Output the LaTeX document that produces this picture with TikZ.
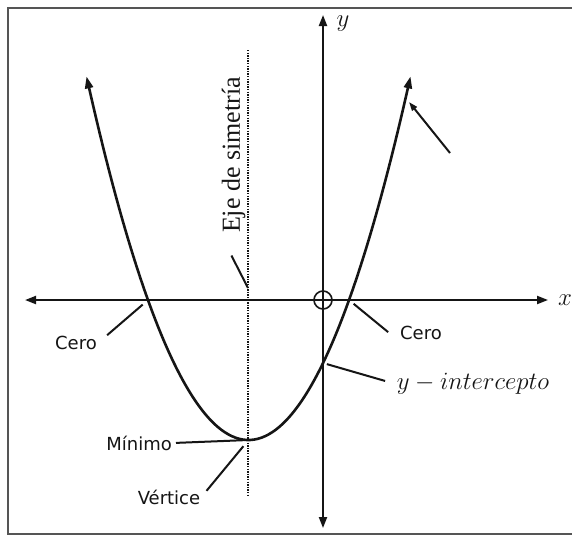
\documentclass[tikz,border=0pt]{standalone}
\usepackage{fontspec}
\setmainfont{Liberation Serif}
\setsansfont{DejaVu Sans}
\usepackage{amsmath}
\usetikzlibrary{arrows.meta}
\definecolor{framegray}{HTML}{555555}
\definecolor{inkblack}{HTML}{151515}
\tikzset{
  axisarrow/.style={{Triangle[length=11pt,width=8pt]}-{Triangle[length=11pt,width=8pt]},line width=2pt,draw=inkblack},
  curvearrow/.style={{Triangle[length=12pt,width=8pt]}-{Triangle[length=12pt,width=8pt]},line width=2.6pt,draw=inkblack},
  pointer/.style={line width=2pt,draw=inkblack},
  pointerarrow/.style={-{Triangle[length=9pt,width=6pt]},line width=2pt,draw=inkblack},
  symline/.style={line width=2.4pt,draw=inkblack,dash pattern=on 1.3pt off 1.3pt},
  sanslabel/.style={font=\sffamily\fontsize{18}{18}\selectfont,inner sep=1pt,text=inkblack},
  mathlabel/.style={font=\fontsize{24}{24}\selectfont,inner sep=1pt,text=inkblack},
  symlabel/.style={font=\fontsize{26}{26}\selectfont,inner sep=1pt,rotate=90,text=inkblack}
}
\begin{document}
\begin{tikzpicture}[x=1pt,y=-1pt]
\useasboundingbox[fill=white] (0,0) rectangle (572,536);
\draw[framegray,line width=2.2pt] (572,8) -- (8,8) -- (8,534) -- (572,534);

\draw[axisarrow] (25,300) -- (548,300);
\draw[axisarrow] (323,528) -- (323,15);
\node[mathlabel] (xlab) at (565,300) {$x$};
\node[mathlabel] (ylab) at (343,24) {$y$};
\node[circle,draw=inkblack,line width=1.6pt,minimum size=18pt,inner sep=0pt] (origin) at (323,300) {};

\draw[symline] (248,50) -- (248,497);
\draw[curvearrow] plot[domain=-162:162,samples=90,smooth] ({248.5+\x},{440-(0.1177*\x)^2});

\coordinate (zeroL) at (148,300);
\coordinate (zeroR) at (349,300);
\coordinate (yint) at (323,363);
\coordinate (vtx) at (248.5,440);
\coordinate (symPt) at (248,288);
\coordinate (upHead) at (409,102);
\coordinate (upTail) at (450,153);

\node[sanslabel] (ceroL) at (76,343) {Cero};
\node[sanslabel] (ceroR) at (421,333) {Cero};
\node[mathlabel] (yintLab) at (473,384) {$y-intercepto$};
\node[sanslabel,anchor=east] (minimo) at (173,443) {Mínimo};
\node[sanslabel] (vertice) at (169,497) {Vértice};
\node[symlabel] (eje) at (233.5,155) {Eje de simetría};

\draw[pointer,shorten <=12pt,shorten >=7pt] (ceroL.east) -- (zeroL);
\draw[pointer,shorten <=14pt,shorten >=6pt] (ceroR.south west) -- (zeroR);
\draw[pointer,shorten <=11pt,shorten >=4pt] (yintLab.west) -- (yint);
\draw[pointer,shorten <=3pt,shorten >=5pt] (minimo.east) -- (vtx);
\draw[pointer,shorten <=8pt,shorten >=8pt] (vertice.east) -- (vtx);
\draw[pointer,shorten <=24pt] (eje.north west) -- (symPt);
\draw[pointerarrow] (upTail) -- (upHead);
\end{tikzpicture}
\end{document}
